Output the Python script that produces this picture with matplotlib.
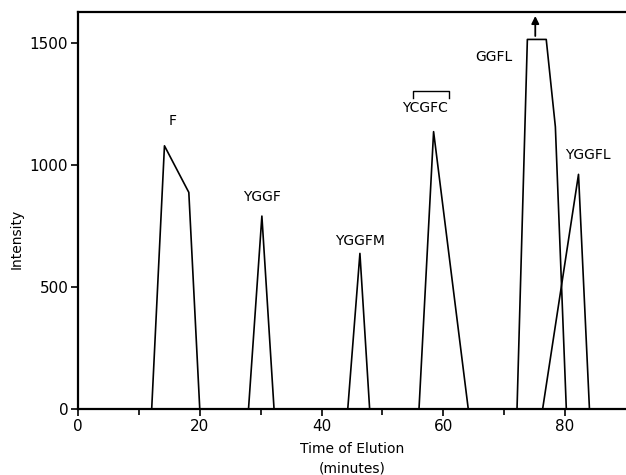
import matplotlib.pyplot as plt

# peaks (time in minutes, intensity)
f_t = [12.1, 14.2, 18.2, 20.0]
f_i = [0, 1080, 889, 0]
yggf_t = [28.0, 30.2, 32.2]
yggf_i = [0, 792, 0]
yggfm_t = [44.3, 46.3, 47.9]
yggfm_i = [0, 639, 0]
ycgfc_t = [56.0, 58.4, 64.1]
ycgfc_i = [0, 1138, 0]
ggfl_t = [72.1, 73.8, 76.9, 78.4, 80.2]
ggfl_i = [0, 1516, 1516, 1158, 0]
yggfl_t = [76.3, 82.2, 84.0]
yggfl_i = [0, 963, 0]

peaks = [(f_t, f_i), (yggf_t, yggf_i), (yggfm_t, yggfm_i),
         (ycgfc_t, ycgfc_i), (ggfl_t, ggfl_i), (yggfl_t, yggfl_i)]

labels = ["F", "YGGF", "YGGFM", "YCGFC", "GGFL", "YGGFL"]
label_x = [15.6, 30.2, 46.3, 57.0, 68.3, 83.8]
label_y = [1180, 872, 689, 1234, 1444, 1043]

fig = plt.figure(figsize=(6.26, 4.75), dpi=100)
ax = fig.add_axes([0.1246, 0.1383, 0.8754, 0.8357])

for t, i in peaks:
    ax.plot(t, i, color="black", lw=1.2)

for lab, x, y in zip(labels, label_x, label_y):
    ax.text(x, y, lab, ha="center", va="center", fontsize=10)

# disulfide bracket over YCGFC
ax.plot([55.0, 55.0, 61.0, 61.0], [1275, 1305, 1305, 1275], color="black", lw=1.0)

# off-scale arrow
ax.annotate("", xy=(75.1, 1612), xytext=(75.1, 1530),
            arrowprops=dict(arrowstyle="-|>", color="black", lw=1.3, mutation_scale=11,
                            shrinkA=0, shrinkB=0))

ax.set_xlim(0, 90)
ax.set_ylim(0, 1627)
ax.set_xticks(range(0, 90, 10), minor=True)
ax.set_xticks([0, 20, 40, 60, 80])
ax.set_yticks([0, 500, 1000, 1500])
ax.tick_params(which="both", direction="out", width=1.2, labelsize=11)
ax.tick_params(which="major", length=5)
ax.tick_params(which="minor", length=4)
ax.tick_params(axis="y", pad=2)
ax.tick_params(axis="x", pad=2)

for s in ["left", "bottom", "top"]:
    ax.spines[s].set_linewidth(1.6)
ax.spines["right"].set_visible(False)

ax.set_xlabel("Time of Elution\n(minutes)", fontsize=10, labelpad=0, linespacing=1.45)
ax.xaxis.set_label_coords(0.5, -0.083, transform=ax.transAxes)
ax.xaxis.label.set_va("top")
ax.set_ylabel("Intensity", fontsize=10, labelpad=12)
ax.yaxis.set_label_coords(-0.1, 0.43)

fig.savefig("out.png", dpi=100)
